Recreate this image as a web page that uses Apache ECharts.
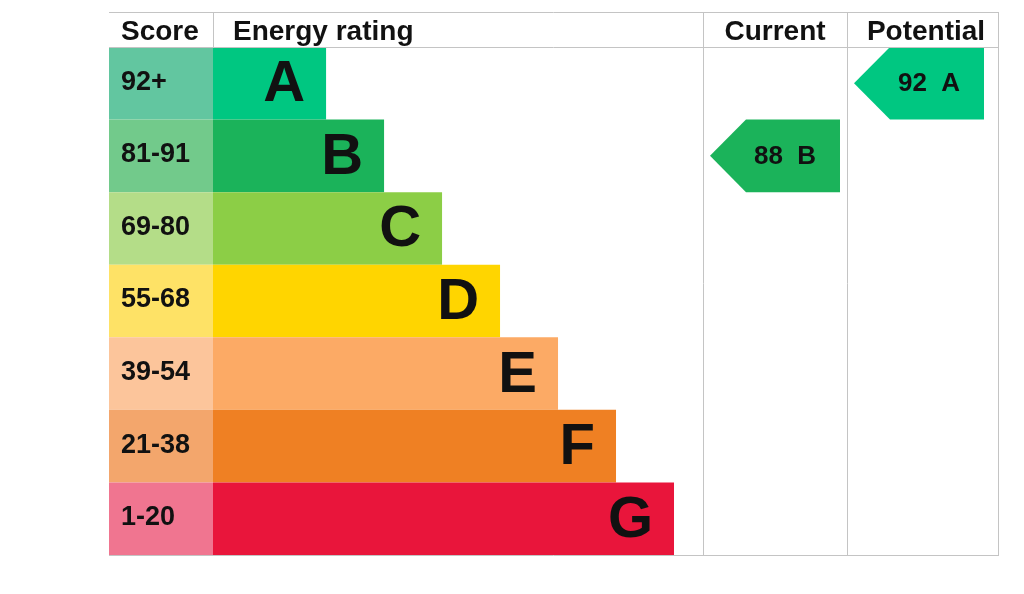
<!DOCTYPE html>
<html>
<head>
<meta charset="utf-8">
<script src="https://cdn.jsdelivr.net/npm/echarts@6/dist/echarts.min.js"></script>
<style>html,body{margin:0;padding:0;background:#fff}#c{width:1024px;height:594px}</style>
</head>
<body>
<div id="c"></div>
<script>
// ---- data ----
const bands = ['A', 'B', 'C', 'D', 'E', 'F', 'G'];
const scoreRanges = ['92+', '81-91', '69-80', '55-68', '39-54', '21-38', '1-20'];
const bandSteps = [1, 2, 3, 4, 5, 6, 7];
const bandColors = ['#00c781', '#1bb35a', '#8cce46', '#ffd500', '#fcaa65', '#ef8023', '#e9153b'];
const scoreColors = ['#62c6a0', '#72ca8b', '#b4dd88', '#fee266', '#fcc59b', '#f3a66c', '#f07590'];
const headers = ['Score', 'Energy rating', 'Current', 'Potential'];
const currentScore = 88;
const currentBand = 'B';
const potentialScore = 92;
const potentialBand = 'A';

// ---- chart ----
const FONT = "'Liberation Sans', Arial, Helvetica, sans-serif";
const chart = echarts.init(document.getElementById('c'), null, { renderer: 'canvas' });

const TOP = 47, BOTTOM = 594 - 555;
const grids = [
  { left: 109, width: 104, top: TOP, bottom: BOTTOM },  // score
  { left: 213, width: 490, top: TOP, bottom: BOTTOM },  // rating
  { left: 703, width: 144, top: TOP, bottom: BOTTOM },  // current
  { left: 847, width: 151, top: TOP, bottom: BOTTOM }   // potential
];
const RMIN = -0.95, RMAX = 7.5;
const xAxes = [
  { gridIndex: 0, type: 'value', min: 0, max: 1, show: false },
  { gridIndex: 1, type: 'value', min: RMIN, max: RMAX, show: false },
  { gridIndex: 2, type: 'value', min: 0, max: 1, show: false },
  { gridIndex: 3, type: 'value', min: 0, max: 1, show: false }
];
const yAxes = [0, 1, 2, 3].map(i => ({
  gridIndex: i, type: 'category', data: bands, inverse: true, show: false
}));

function scoreItem(params, api) {
  const idx = api.value(1);
  const p0 = api.coord([0, idx]);
  const p1 = api.coord([1, idx]);
  const h = api.size([0, 1])[1];
  return {
    type: 'group',
    children: [
      { type: 'rect', shape: { x: p0[0], y: p0[1] - h / 2, width: p1[0] - p0[0], height: h },
        style: { fill: scoreColors[idx] } },
      { type: 'text', style: { text: scoreRanges[idx], x: p0[0] + 12, y: p0[1] - 1,
        align: 'left', verticalAlign: 'middle', font: 'bold 27px ' + FONT, fill: '#111' } }
    ]
  };
}
function ratingItem(params, api) {
  const idx = api.value(1);
  const p0 = api.coord([RMIN, idx]);
  const p1 = api.coord([api.value(0), idx]);
  const h = api.size([0, 1])[1];
  return {
    type: 'group',
    children: [
      { type: 'rect', shape: { x: p0[0], y: p0[1] - h / 2, width: p1[0] - p0[0], height: h },
        style: { fill: bandColors[idx] } },
      { type: 'text', style: { text: bands[idx], x: p1[0] - 21, y: p0[1] + 2,
        align: 'right', verticalAlign: 'middle', font: 'bold 58px ' + FONT, fill: '#111' } }
    ]
  };
}
function arrowItem(params, api) {
  const idx = api.value(1);
  const score = api.value(2);
  const p = api.coord([0, idx]);
  const h = api.size([0, 1])[1];
  const x0 = p[0] + 7, x1 = x0 + 130, tip = 36;
  const yt = p[1] - h / 2, yb = p[1] + h / 2;
  return {
    type: 'group',
    children: [
      { type: 'polygon', shape: { points: [[x0, p[1]], [x0 + tip, yt], [x1, yt], [x1, yb], [x0 + tip, yb]] },
        style: { fill: bandColors[idx] } },
      { type: 'text', style: { text: score + '  ' + bands[idx], x: x0 + 75, y: p[1] + 1,
        align: 'center', verticalAlign: 'middle', font: 'bold 26px ' + FONT, fill: '#111' } }
    ]
  };
}

const lineStyle = { stroke: '#c4c4c4', lineWidth: 1 };
function hline(y, x1, x2) { return { type: 'line', z: 100, shape: { x1: x1, y1: y, x2: x2, y2: y }, style: lineStyle }; }
function vline(x, y1, y2) { return { type: 'line', z: 100, shape: { x1: x, y1: y1, x2: x, y2: y2 }, style: lineStyle }; }
function htext(t, x, align) {
  return { type: 'text', z: 100, style: { text: t, x: x, y: 32, align: align, verticalAlign: 'middle',
    font: 'bold 28px ' + FONT, fill: '#111' } };
}

chart.setOption({
  animation: false,
  backgroundColor: '#ffffff',
  grid: grids,
  xAxis: xAxes,
  yAxis: yAxes,
  series: [
    { type: 'custom', xAxisIndex: 0, yAxisIndex: 0, renderItem: scoreItem,
      data: bands.map(b => [1, b]) },
    { type: 'custom', xAxisIndex: 1, yAxisIndex: 1, renderItem: ratingItem,
      data: bands.map((b, i) => [bandSteps[i], b]) },
    { type: 'custom', xAxisIndex: 2, yAxisIndex: 2, renderItem: arrowItem,
      data: [[0, currentBand, currentScore]] },
    { type: 'custom', xAxisIndex: 3, yAxisIndex: 3, renderItem: arrowItem,
      data: [[0, potentialBand, potentialScore]] }
  ],
  graphic: [
    hline(12.5, 109, 998), hline(47.5, 109, 998), hline(555.5, 109, 998),
    vline(213.5, 12, 47), vline(703.5, 12, 555), vline(847.5, 12, 555), vline(998.5, 12, 556),
    htext(headers[0], 121, 'left'),
    htext(headers[1], 233, 'left'),
    htext(headers[2], 775, 'center'),
    htext(headers[3], 926, 'center')
  ]
});
</script>
</body>
</html>
